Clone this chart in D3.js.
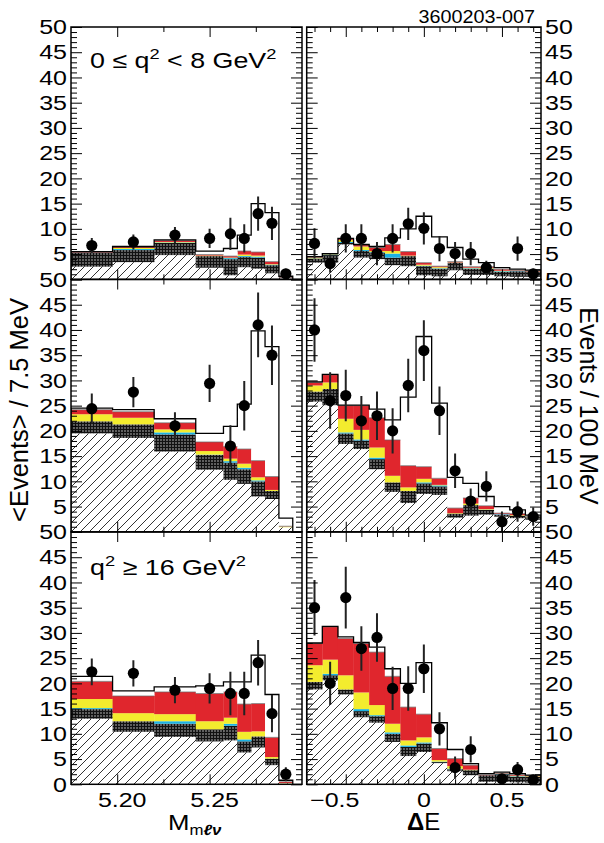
<!DOCTYPE html>
<html>
<head>
<meta charset="utf-8">
<script src="https://cdn.jsdelivr.net/npm/d3@7/dist/d3.min.js"></script>
<style>
  body { margin: 0; background: #fff; }
  text { font-family: "Liberation Sans", Arial, Helvetica, sans-serif; fill: #000; }
</style>
</head>
<body>
<svg id="chart" width="604" height="843"></svg>
<script>
// bin edges (variable width in M, 100 MeV in dE)
const mEdges = [5.175, 5.1975, 5.22, 5.2425, 5.2575, 5.265, 5.2725, 5.28, 5.2875, 5.295];
const eEdges = [-0.75, -0.65, -0.55, -0.45, -0.35, -0.25, -0.15, -0.05, 0.05, 0.15, 0.25, 0.35, 0.45, 0.55, 0.65, 0.75];

// stacked components, bottom to top
const layerKeys = ["hatch", "dark", "cyan", "yellow", "red", "signal"];

// row 1 : 0 <= q2 < 8 GeV2
const m1Hatch  = [2.5, 3.4, 4.8, 2.3, 0.8, 2.4, 2.1, 1.2, 0.3];
const m1Dark   = [2.8, 2.4, 2.4, 2.3, 3.2, 2.0, 2.2, 1.6, 0.1];
const m1Cyan   = [0, 0.2, 0.1, 0, 0.2, 0.2, 0.2, 0.1, 0];
const m1Yellow = [0, 0.2, 0.1, 0.1, 0.1, 0.3, 0.2, 0.1, 0];
const m1Red    = [0.1, 0.2, 0.3, 0.2, 0.3, 0.7, 0.7, 0.5, 0.05];
const m1Signal = [0.1, 0.1, 0.1, 0.7, 1.5, 3.15, 9.6, 9.7, 0.15];
const m1Obs    = [6.7, 7.4, 8.75, 8.1, 9.0, 8.1, 13.0, 11.1, 1.1];
const m1Err    = [1.5, 1.5, 1.6, 1.9, 3.2, 2.8, 3.4, 3.3, 1.0];

const e1Hatch  = [3.3, 3.3, 6.9, 4.3, 4.0, 2.8, 2.6, 0.8, 0.6, 1.8, 0.85, 0.85, 0.6, 0.5, 0.5];
const e1Dark   = [0.8, 1.5, 0.3, 1.3, 1.3, 1.5, 2.0, 1.8, 1.5, 1.5, 1.25, 1.25, 0.85, 1.1, 1.0];
const e1Cyan   = [0.05, 0.1, 0.2, 0.2, 0.1, 0.8, 0, 0.1, 0.1, 0, 0.1, 0.05, 0.15, 0.05, 0];
const e1Yellow = [0.15, 0.1, 0.4, 0.7, 0.2, 0.5, 0.1, 0.2, 0.2, 0.05, 0.1, 0.15, 0.1, 0.05, 0.05];
const e1Red    = [0.1, 0, 0.2, 0.3, 0.7, 1.3, 0.8, 0.4, 0.2, 0.15, 0.2, 0.2, 0.3, 0.1, 0.1];
const e1Signal = [0.1, 0.1, 0.1, 0.1, 0.2, 1.3, 4.5, 9.2, 5.8, 2.8, 1.5, 0.8, 0.3, 0.2, 0.15];
const e1Obs    = [7.1, 3.1, 8.1, 8.1, 5.1, 8.1, 11.0, 10.1, 6.1, 5.1, 5.1, 2.3, null, 6.1, 1.1];
const e1Err    = [3.0, 1.8, 2.8, 2.8, 2.3, 2.8, 3.2, 3.2, 2.5, 2.3, 2.3, 1.4, 0, 2.4, 1.0];

// row 2 : 8 <= q2 < 16 GeV2
const m2Hatch  = [19.5, 18.6, 15.9, 12.3, 10.3, 9.5, 7.0, 6.5, 0.9];
const m2Dark   = [2.4, 2.7, 3.4, 2.95, 3.4, 2.9, 3.0, 1.6, 0];
const m2Cyan   = [0, 0, 0.4, 0.05, 0.3, 0.3, 0.2, 0, 0];
const m2Yellow = [1.4, 1.3, 0.6, 0.7, 0.5, 0.8, 0.6, 0.2, 0.15];
const m2Red    = [0.9, 1.2, 1.3, 1.8, 2.4, 2.9, 3.3, 2.65, 0.05];
const m2Signal = [0.3, 0.4, 0.8, 1.7, 4.0, 8.9, 25.7, 25.75, 1.6];
const m2Obs    = [24.4, 27.7, 21.0, 29.4, 17.0, 25.0, 41.0, 35.0, null];
const m2Err    = [3.0, 3.0, 2.7, 3.7, 4.1, 4.9, 6.4, 5.9, 0];

const e2Hatch  = [25.8, 25.1, 17.4, 16.4, 12.4, 7.9, 5.7, 7.5, 7.3, 2.8, 3.2, 3.4, 3.0, 2.7, 2.4];
const e2Dark   = [2.0, 3.2, 2.1, 1.7, 2.0, 1.9, 2.4, 2.1, 1.7, 0.8, 2.1, 0.95, 0.4, 0.5, 0.5];
const e2Cyan   = [0, 0, 0.2, 0.2, 0.3, 0, 0, 0.2, 0.2, 0, 0, 0.05, 0.1, 0, 0];
const e2Yellow = [1.2, 1.3, 2.7, 1.9, 2.0, 1.3, 0.7, 0.7, 0.1, 0.1, 0.3, 0.1, 0, 0.1, 0.05];
const e2Red    = [0.6, 1.5, 2.6, 4.8, 5.9, 7.1, 4.3, 2.4, 1.3, 1.0, 1.1, 0.65, 0.2, 0.3, 0.05];
const e2Signal = [0.1, 0.1, 0.1, 0.1, 1.7, 4.0, 13.6, 25.8, 14.9, 6.1, 2.9, 1.85, 1.3, 0.75, 0.3];
const e2Obs    = [40.0, 26.0, 27.0, 22.0, 23.0, 20.0, 29.0, 35.9, 24.0, 12.1, 6.1, 9.0, 2.0, 4.0, 3.0];
const e2Err    = [6.3, 5.6, 5.1, 4.9, 4.8, 4.5, 5.3, 6.0, 4.8, 3.4, 2.5, 3.0, 2.0, 2.0, 1.8];

// row 3 : q2 >= 16 GeV2
const m3Hatch  = [13.0, 10.4, 9.4, 8.5, 8.7, 6.3, 7.3, 3.8, 0.2];
const m3Dark   = [1.9, 2.1, 2.6, 2.4, 2.9, 2.2, 2.2, 1.3, 0];
const m3Cyan   = [0.2, 0, 0.5, 0, 0.4, 0.4, 0, 0, 0];
const m3Yellow = [1.8, 1.6, 1.4, 1.6, 1.2, 1.5, 1.0, 0.3, 0.05];
const m3Red    = [3.5, 3.4, 4.4, 5.5, 5.1, 5.5, 5.5, 3.9, 0.25];
const m3Signal = [1.0, 1.0, 1.0, 1.5, 2.0, 4.4, 9.6, 8.5, 0.3];
const m3Obs    = [22.3, 22.0, 18.65, 19.0, 18.0, 18.0, 24.1, 14.0, 2.0];
const m3Err    = [2.65, 2.6, 2.6, 3.0, 4.3, 4.3, 4.5, 3.7, 1.4];

const e3Hatch  = [18.8, 20.6, 17.8, 13.3, 12.2, 8.4, 5.6, 6.4, 4.2, 2.6, 1.8, 0.5, 0.5, 0.4, 0.3];
const e3Dark   = [1.5, 1.0, 1.0, 1.2, 1.3, 1.6, 1.8, 1.7, 0.2, 0.4, 1.0, 1.3, 1.5, 1.1, 1.2];
const e3Cyan   = [0, 0.3, 0, 0.4, 0.2, 0.3, 0.3, 0.2, 0.1, 0.1, 0, 0, 0.05, 0.1, 0];
const e3Yellow = [3.3, 2.8, 2.8, 3.3, 2.0, 1.7, 1.0, 1.0, 0.3, 0.5, 0.1, 0, 0.05, 0.1, 0.1];
const e3Red    = [4.3, 6.5, 7.3, 9.7, 10.5, 9.4, 6.6, 4.6, 2.3, 1.5, 0.9, 0.1, 0.1, 0.2, 0.1];
const e3Signal = [0.1, 0.1, 0.3, 0.2, 1.0, 1.5, 4.7, 10.2, 5.1, 1.8, 0.3, 0.2, 0.2, 0.2, 0.1];
const e3Obs    = [35.0, 20.0, 37.0, 26.9, 29.1, 19.0, 19.0, 22.9, 11.0, 3.3, 6.9, null, 1.1, 2.9, 0.9];
const e3Err    = [5.5, 4.3, 6.1, 4.4, 4.8, 4.3, 4.4, 4.8, 3.3, 2.2, 2.6, 0, 1.0, 1.5, 0.9];

// tick labels
const yTickVals = [5, 10, 15, 20, 25, 30, 35, 40, 45, 50];
const mTickVals = [5.20, 5.25];
const mTickText = ["5.20", "5.25"];
const eTickVals = [-0.5, 0, 0.5];
const eTickText = ["\u22120.5", "0", "0.5"];
const rowLabels = ["0 \u2264 q|2| < 8 GeV|2|", null, "q|2| \u2265 16 GeV|2|"];

// ---------------------------------------------------------------
const svg = d3.select("#chart");
const rowTop = [27, 279.5, 532], rowH = 252.3;
const xM = d3.scaleLinear().domain([5.175, 5.30]).range([71, 302]);
const xE = d3.scaleLinear().domain([-0.75, 0.75]).range([306.7, 541]);
const SX = 1.25; // glyphs in the original are stretched horizontally

const fills = { hatch: "url(#hatch)", dark: "url(#mesh)", cyan: "#1bb1e3",
                yellow: "#f3ec2e", red: "#e0262d", signal: "#fff" };

const defs = svg.append("defs");
const hp = defs.append("pattern").attr("id", "hatch").attr("patternUnits", "userSpaceOnUse")
  .attr("width", 9).attr("height", 9);
hp.append("rect").attr("width", 9).attr("height", 9).attr("fill", "#fff");
hp.append("path").attr("d", "M0,9L9,0M-2,2L2,-2M7,11L11,7").attr("stroke", "#000").attr("stroke-width", 0.8);
const mp = defs.append("pattern").attr("id", "mesh").attr("patternUnits", "userSpaceOnUse")
  .attr("width", 3).attr("height", 3);
mp.append("rect").attr("width", 3).attr("height", 3).attr("fill", "#5e5e5e");
mp.append("path").attr("d", "M0,0.5H3M0.5,0V3").attr("stroke", "#111").attr("stroke-width", 1);

const panels = [
  { id: "m1", row: 0, x: xM, edges: mEdges, layers: [m1Hatch, m1Dark, m1Cyan, m1Yellow, m1Red, m1Signal], obs: m1Obs, err: m1Err },
  { id: "e1", row: 0, x: xE, edges: eEdges, layers: [e1Hatch, e1Dark, e1Cyan, e1Yellow, e1Red, e1Signal], obs: e1Obs, err: e1Err },
  { id: "m2", row: 1, x: xM, edges: mEdges, layers: [m2Hatch, m2Dark, m2Cyan, m2Yellow, m2Red, m2Signal], obs: m2Obs, err: m2Err },
  { id: "e2", row: 1, x: xE, edges: eEdges, layers: [e2Hatch, e2Dark, e2Cyan, e2Yellow, e2Red, e2Signal], obs: e2Obs, err: e2Err },
  { id: "m3", row: 2, x: xM, edges: mEdges, layers: [m3Hatch, m3Dark, m3Cyan, m3Yellow, m3Red, m3Signal], obs: m3Obs, err: m3Err },
  { id: "e3", row: 2, x: xE, edges: eEdges, layers: [e3Hatch, e3Dark, e3Cyan, e3Yellow, e3Red, e3Signal], obs: e3Obs, err: e3Err }
];

const minorY = d3.range(1, 50).filter(v => v % 5 !== 0);
const majorY = d3.range(0, 51, 5);

panels.forEach(p => {
  const x = p.x;
  const [x0, x1] = x.range();
  const y = d3.scaleLinear().domain([0, 50]).range([rowTop[p.row] + rowH, rowTop[p.row]]);
  const [yb, yt] = y.range();

  defs.append("clipPath").attr("id", "clip-" + p.id)
    .append("rect").attr("x", x0).attr("y", yt).attr("width", x1 - x0).attr("height", yb - yt);
  const g = svg.append("g").attr("clip-path", `url(#clip-${p.id})`);

  // one record per bin
  const rows = p.edges.slice(0, -1).map((e, i) => {
    const r = { lo: e, hi: p.edges[i + 1] };
    layerKeys.forEach((k, j) => r[k] = p.layers[j][i]);
    return r;
  });
  const series = d3.stack().keys(layerKeys)(rows);

  g.selectAll("g.layer").data(series).join("g")
    .attr("class", "layer").attr("fill", d => fills[d.key])
    .selectAll("rect").data(d => d).join("rect")
    .attr("x", d => x(d.data.lo))
    .attr("width", d => x(d.data.hi) - x(d.data.lo) + 0.3)
    .attr("y", d => y(d[1]))
    .attr("height", d => Math.max(0, y(d[0]) - y(d[1])));

  // thin line on top of the background stack
  g.selectAll("line.bkg").data(series[4]).join("line")
    .attr("x1", d => x(d.data.lo)).attr("x2", d => x(d.data.hi))
    .attr("y1", d => y(d[1])).attr("y2", d => y(d[1]))
    .attr("stroke", "#666").attr("stroke-width", 0.7);

  // step outline of the total
  const top = series[series.length - 1];
  const pts = [[p.edges[0], 0]]
    .concat(top.map(d => [d.data.lo, d[1]]))
    .concat([[p.edges[p.edges.length - 1], top[top.length - 1][1]], [p.edges[p.edges.length - 1], 0]]);
  g.append("path")
    .attr("d", d3.line().x(d => x(d[0])).y(d => y(d[1])).curve(d3.curveStepAfter)(pts))
    .attr("fill", "none").attr("stroke", "#000").attr("stroke-width", 1.3);

  // data points
  const pd = rows.map((r, i) => ({ c: (r.lo + r.hi) / 2, v: p.obs[i], e: p.err[i] }))
    .filter(d => d.v !== null);
  g.selectAll("line.err").data(pd).join("line")
    .attr("x1", d => x(d.c)).attr("x2", d => x(d.c))
    .attr("y1", d => y(d.v - d.e)).attr("y2", d => y(d.v + d.e))
    .attr("stroke", "#222").attr("stroke-width", 2);
  g.selectAll("circle.pt").data(pd).join("circle")
    .attr("cx", d => x(d.c)).attr("cy", d => y(d.v)).attr("r", 5.6).attr("fill", "#000");

  // ticks pointing inward on all four sides
  const ax = svg.append("g");
  const tick = (axis, tx, ty) => {
    const a = ax.append("g").attr("transform", `translate(${tx},${ty})`).call(axis);
    a.select(".domain").remove();
    a.selectAll("line").attr("stroke", "#000").attr("stroke-width", 1);
  };
  tick(d3.axisRight(y).tickValues(majorY).tickSize(11).tickFormat(""), x0, 0);
  tick(d3.axisRight(y).tickValues(minorY).tickSize(6).tickFormat(""), x0, 0);
  tick(d3.axisLeft(y).tickValues(majorY).tickSize(11).tickFormat(""), x1, 0);
  tick(d3.axisLeft(y).tickValues(minorY).tickSize(6).tickFormat(""), x1, 0);
  const isM = p.id[0] === "m";
  const majX = isM ? mTickVals : eTickVals;
  const minX = isM ? [5.225, 5.275] : [-0.7, -0.6, -0.4, -0.3, -0.2, -0.1, 0.1, 0.2, 0.3, 0.4, 0.6, 0.7];
  tick(d3.axisTop(x).tickValues(majX).tickSize(10).tickFormat(""), 0, yb);
  tick(d3.axisTop(x).tickValues(minX).tickSize(5).tickFormat(""), 0, yb);
  tick(d3.axisBottom(x).tickValues(majX).tickSize(10).tickFormat(""), 0, yt);
  tick(d3.axisBottom(x).tickValues(minX).tickSize(5).tickFormat(""), 0, yt);

  // frame
  svg.append("rect").attr("x", x0).attr("y", yt).attr("width", x1 - x0).attr("height", yb - yt)
    .attr("fill", "none").attr("stroke", "#000").attr("stroke-width", 1.5);

  // y tick labels: left column on the left, right column on the right
  const vals = p.row === 2 ? [0].concat(yTickVals) : yTickVals;
  const left = isM;
  svg.append("g").selectAll("text").data(vals).join("text")
    .attr("transform", d => `translate(${left ? 67 : 545},${y(d)}) scale(${SX},1)`)
    .attr("dy", "0.36em").attr("text-anchor", left ? "end" : "start")
    .attr("font-size", 20).text(d => d);

  // x tick labels under bottom row
  if (p.row === 2) {
    const txt = isM ? mTickText : eTickText;
    const dx = isM ? [5, 5] : [-11, 0, 5];
    svg.append("g").selectAll("text").data(majX).join("text")
      .attr("transform", (d, i) => `translate(${x(d) + dx[i]},807) scale(${SX},1)`)
      .attr("text-anchor", "middle").attr("font-size", 20).text((d, i) => txt[i]);
  }

  // q2 region label
  if (isM && rowLabels[p.row]) {
    const t = svg.append("text")
      .attr("transform", `translate(90,${p.row === 0 ? 67.5 : 575}) scale(1.22,1)`)
      .attr("font-size", 22);
    rowLabels[p.row].split("|").forEach((s, i) => {
      if (i % 2) t.append("tspan").attr("font-size", 15).attr("dy", -9).text(s);
      else t.append("tspan").attr("dy", i ? 9 : 0).text(s);
    });
  }
});

// figure id
svg.append("text").attr("transform", "translate(535,22.5) scale(1.07,1)")
  .attr("text-anchor", "end").attr("font-size", 18.5).text("3600203-007");

// axis titles
svg.append("text").attr("transform", "translate(28,410) rotate(-90)")
  .attr("text-anchor", "middle").attr("font-size", 25.5).text("<Events> / 7.5 MeV");
svg.append("text").attr("transform", "translate(580,406) rotate(90)")
  .attr("text-anchor", "middle").attr("font-size", 25).text("Events / 100 MeV");

const mt = svg.append("text").attr("transform", "translate(168,830) scale(1.12,1)").attr("font-size", 23);
mt.append("tspan").text("M");
mt.append("tspan").attr("font-size", 15).attr("dy", 5).text("m");
mt.append("tspan").attr("font-size", 15).attr("font-weight", "bold").attr("font-style", "italic").text("\u2113\u03bd");

const et = svg.append("text").attr("transform", "translate(407,830)").attr("font-size", 24);
et.append("tspan").attr("font-weight", "bold").text("\u0394");
et.append("tspan").text("E");
</script>
</body>
</html>
